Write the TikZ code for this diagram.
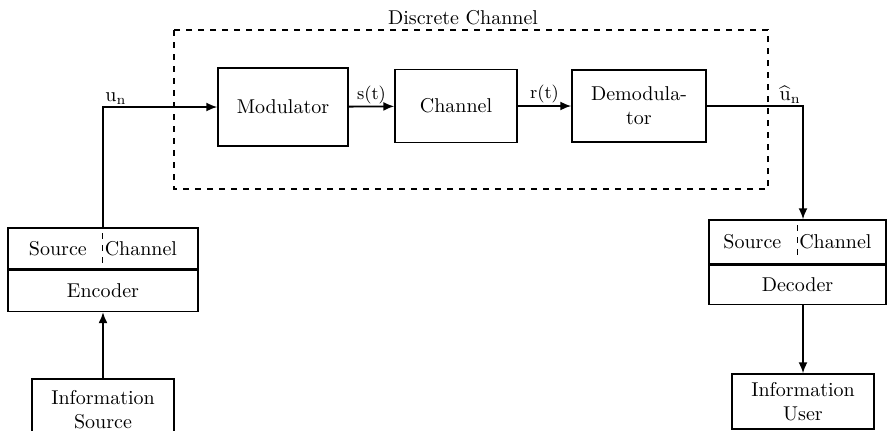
\documentclass[tikz,border=0pt]{standalone}
\usepackage{amsmath}
\usepackage{tikz}
\usetikzlibrary{arrows.meta,positioning,calc}
\tikzset{
  blockbox/.style={draw,line width=0.7pt,align=center,inner sep=0pt,font=\normalsize},
  codecbox/.style={blockbox,minimum width=95pt,minimum height=20.5pt},
  flowarrow/.style={-{Latex[length=5.5pt,width=4.5pt]},line width=0.9pt},
  siglabel/.style={font=\small,inner sep=1pt}
}
\begin{document}
\begin{tikzpicture}[x=0.5pt,y=-0.5pt]
  \useasboundingbox (0,0) rectangle (889,430);
  % discrete channel
  \draw[dashed,line width=0.7pt] (174,30) rectangle (768,189);
  \node (dclabel) at (463,18) {Discrete Channel};
  \node[blockbox,minimum width=65pt,minimum height=39pt] (mod) at (283,107) {Modulator};
  \node[blockbox,minimum width=61pt,minimum height=36.5pt] (chan) at (456,106) {Channel};
  \node[blockbox,minimum width=67pt,minimum height=36pt] (demod) at (639,106) {Demodula-\\tor};
  \draw[flowarrow] (mod) -- (chan) node[midway,above,siglabel] {s(t)};
  \draw[flowarrow] (chan) -- (demod) node[midway,above,siglabel] {r(t)};
  % transmitter side
  \node[codecbox] (enctop) at (103,248.5) {Source\hspace{9pt}Channel};
  \node[codecbox,below=0pt of enctop] (encbot) {Encoder};
  \draw[dashed,line width=0.5pt] (102,233) -- (102,266);
  \node[blockbox,minimum width=71pt,minimum height=31pt] (src) at (103,410) {Information\\Source};
  \draw[flowarrow] (src) -- (encbot);
  \draw[flowarrow] (enctop.north) |- (mod.west) coordinate[pos=0.5] (uncorner);
  \node[anchor=south west,inner sep=1pt] (unlabel) at (uncorner) {\(\mathrm{u}_{\mathrm{n}}\)};
  % receiver side
  \node[codecbox,minimum width=88.5pt,minimum height=22pt] (dectop) at (797.5,242) {Source\hspace{9pt}Channel};
  \node[codecbox,minimum width=88.5pt,minimum height=19.5pt,below=0pt of dectop] (decbot) {Decoder};
  \draw[dashed,line width=0.5pt] (797,225) -- (797,258);
  \node[blockbox,minimum width=71pt,minimum height=27.5pt] (user) at (803,401.5) {Information\\User};
  \draw[flowarrow] (demod.east) -| (user.north |- dectop.north) coordinate[pos=0.5] (hatcorner);
  \node[anchor=south east,inner sep=1pt] (hatlabel) at (hatcorner) {\(\widehat{\mathrm{u}}_{\mathrm{n}}\)};
  \draw[flowarrow] (decbot.south -| user.north) -- (user);
\end{tikzpicture}
\end{document}
